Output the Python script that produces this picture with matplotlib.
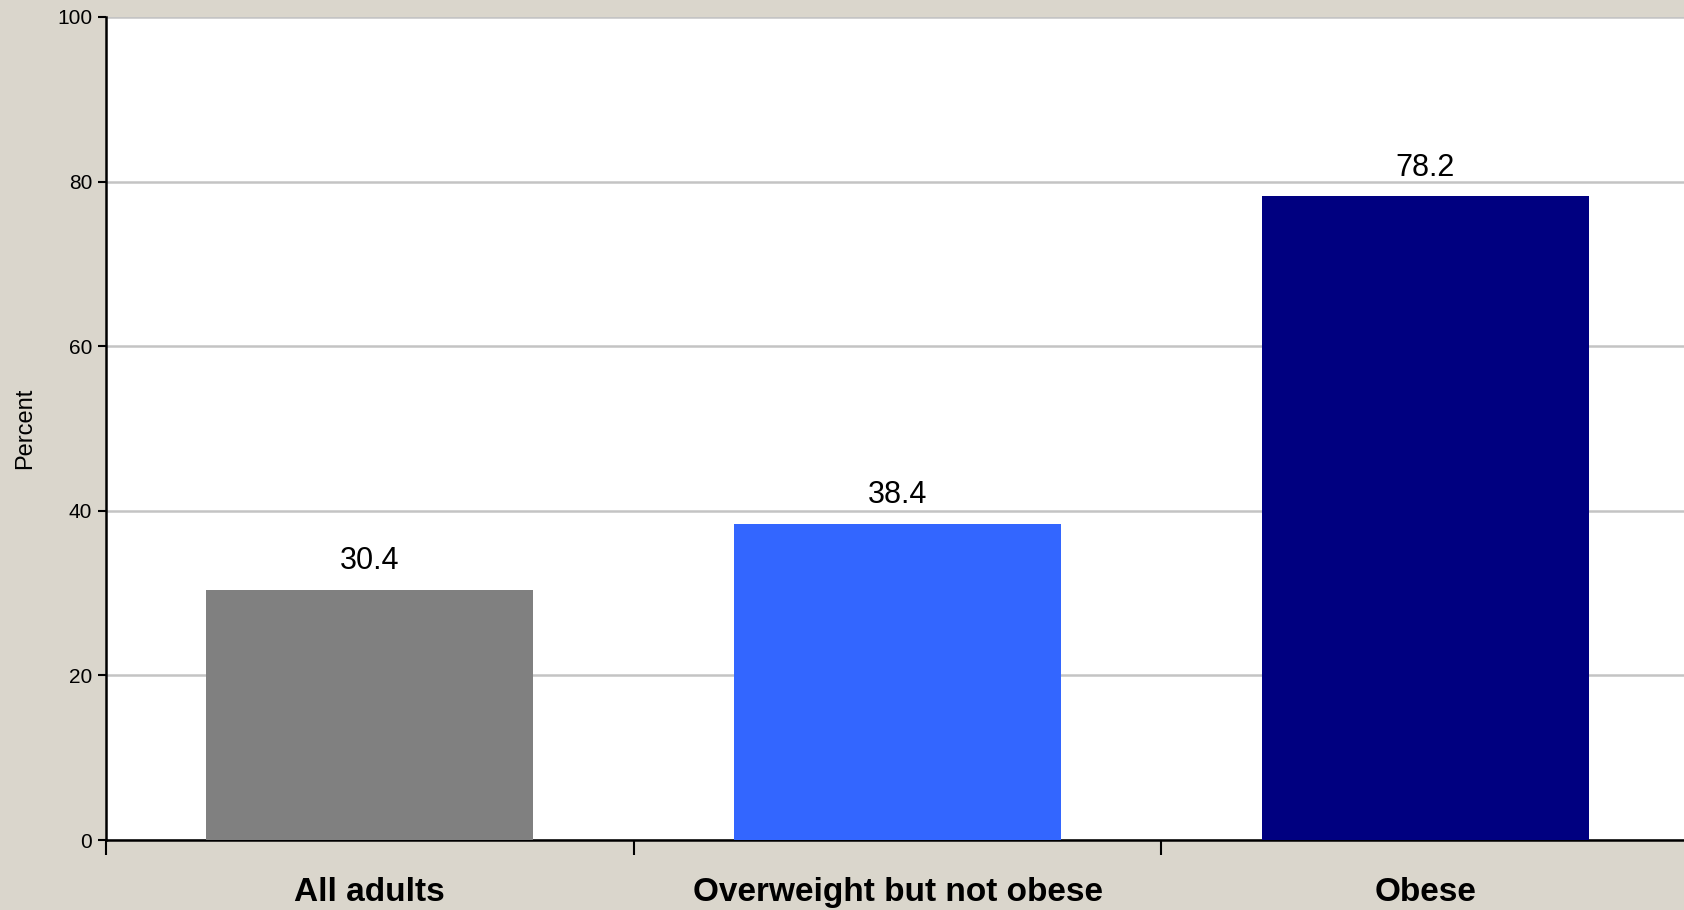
import matplotlib
matplotlib.use("Agg")
import matplotlib.pyplot as plt

categories = ["All adults", "Overweight but not obese", "Obese"]
values = [30.4, 38.4, 78.2]
colors = ["#808080", "#3366FF", "#000080"]
yticks = [0, 20, 40, 60, 80, 100]

bg = "#DAD6CC"
W, H = 1684, 910
fig = plt.figure(figsize=(W / 100, H / 100), dpi=100, facecolor=bg)
ax = fig.add_axes([106 / W, 1 - 840 / H, 1 - 106 / W + 0.003, (840 - 17) / H])
ax.set_facecolor("white")

x = list(range(len(categories)))
ax.bar(x, values, width=0.62, color=colors, zorder=3)
ax.set_xlim(-0.5, 2.5)
ax.set_ylim(0, 100)

for xi, v in zip(x, values):
    ax.annotate(f"{v:.1f}", (xi, v), xytext=(0, 10), textcoords="offset points",
                ha="center", va="bottom", fontsize=22, family="Liberation Sans")

ax.set_yticks(yticks)
ax.set_yticklabels([str(t) for t in yticks], fontsize=15, family="Liberation Sans")
ax.yaxis.grid(True, color="#C4C4C4", linewidth=1.8, zorder=0)
ax.set_axisbelow(True)

ax.set_xticks([-0.5, 0.5, 1.5, 2.5])
ax.set_xticklabels([])
ax.tick_params(axis="x", direction="out", length=11, width=1.5, color="black")
ax.tick_params(axis="y", direction="out", length=6, width=1.5, color="black", pad=4)

for xi, c in zip(x, categories):
    ax.text(xi, (840 - 901) / 823, c, transform=ax.get_xaxis_transform(),
            ha="center", va="baseline", fontsize=24, fontweight="bold",
            family="Liberation Sans")

ax.set_ylabel("Percent", fontsize=17, family="Liberation Sans")
ax.yaxis.set_label_coords((36 - 106) / (W - 106), 0.5)

for s in ["top", "right"]:
    ax.spines[s].set_visible(False)
ax.spines["left"].set_linewidth(1.8)
ax.spines["bottom"].set_linewidth(1.8)

fig.savefig("out.png", dpi=100, facecolor=bg)
